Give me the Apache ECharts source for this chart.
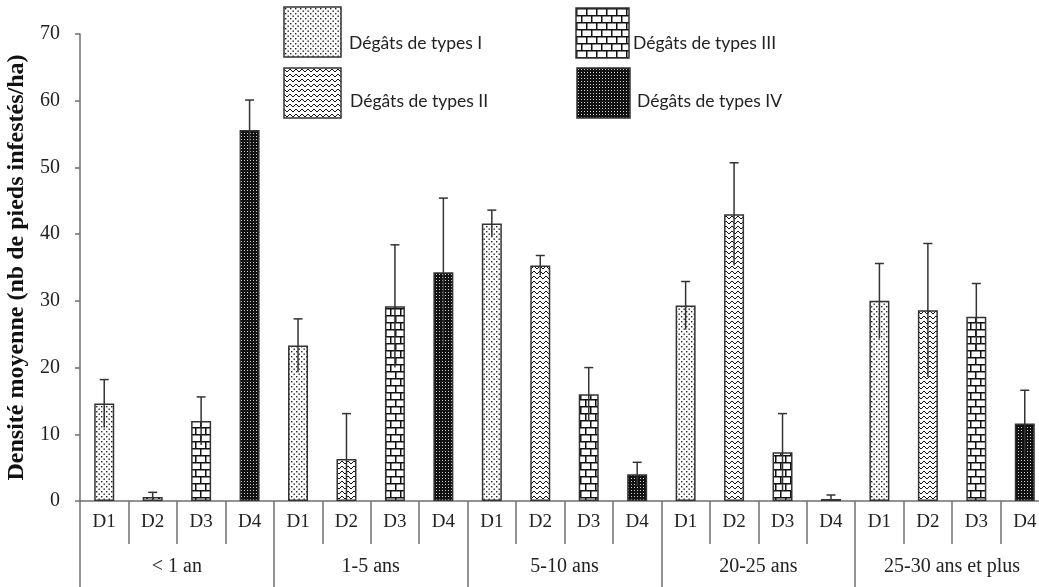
<!DOCTYPE html>
<html>
<head>
<meta charset="utf-8">
<script src="https://cdn.jsdelivr.net/npm/echarts@6/dist/echarts.min.js"></script>
<style>html,body{margin:0;padding:0;background:#fff}#c{width:1039px;height:587px}</style>
</head>
<body>
<div id="c"></div>
<script>
// ---- data ----
const groups = ['< 1 an', '1-5 ans', '5-10 ans', '20-25 ans', '25-30 ans et plus'];
const dLabels = ['D1', 'D2', 'D3', 'D4'];
const typeNames = ['Dégâts de types I', 'Dégâts de types II', 'Dégâts de types III', 'Dégâts de types IV'];
const meanD1 = [14.6, 23.3, 41.6, 29.3, 30.0];
const meanD2 = [0.6, 6.3, 35.3, 43.0, 28.6];
const meanD3 = [12.0, 29.2, 16.0, 7.3, 27.6];
const meanD4 = [55.6, 34.3, 4.0, 0.3, 11.6];
const errD1 = [3.6, 4.0, 2.0, 3.6, 5.6];
const errD2 = [0.7, 6.8, 1.5, 7.7, 10.0];
const errD3 = [3.6, 9.2, 4.0, 5.8, 5.0];
const errD4 = [4.5, 11.1, 1.8, 0.6, 5.0];
const yTicks = [0, 10, 20, 30, 40, 50, 60, 70];

// ---- patterns ----
function pat(w, h, draw) {
  const c = document.createElement('canvas');
  c.width = w; c.height = h;
  const ctx = c.getContext('2d');
  draw(ctx, w, h);
  return { image: c, repeat: 'repeat' };
}
const pDots = pat(5, 5, (ctx) => {
  ctx.fillStyle = '#fff'; ctx.fillRect(0, 0, 5, 5);
  ctx.fillStyle = '#222';
  ctx.fillRect(1, 1, 1.4, 1.4); ctx.fillRect(3.5, 3.5, 1.4, 1.4);
});
const pWave = pat(6, 5, (ctx) => {
  ctx.fillStyle = '#fff'; ctx.fillRect(0, 0, 6, 5);
  ctx.strokeStyle = '#111'; ctx.lineWidth = 1;
  ctx.beginPath(); ctx.moveTo(0, 1); ctx.lineTo(3, 4); ctx.lineTo(6, 1); ctx.stroke();
});
const pBrick = pat(10, 14, (ctx) => {
  ctx.fillStyle = '#fff'; ctx.fillRect(0, 0, 10, 14);
  ctx.fillStyle = '#111';
  ctx.fillRect(0, 0, 10, 1.5); ctx.fillRect(0, 7, 10, 1.5);
  ctx.fillRect(0, 0, 1.5, 7); ctx.fillRect(5, 7, 1.5, 7);
});
const pDark = pat(3, 3, (ctx) => {
  ctx.fillStyle = '#111'; ctx.fillRect(0, 0, 3, 3);
  ctx.fillStyle = '#cfcfcf'; ctx.fillRect(1, 1, 1, 1);
});
const patterns = [pDots, pWave, pBrick, pDark];

// ---- build ----
const means = [meanD1, meanD2, meanD3, meanD4];
const errs = [errD1, errD2, errD3, errD4];
const cats = [];
const barData = [];
const errData = [];
groups.forEach((g, gi) => {
  dLabels.forEach((d, t) => {
    const idx = cats.length;
    cats.push(d);
    const m = means[t][gi], e = errs[t][gi];
    barData.push({ value: m, itemStyle: { color: patterns[t] } });
    errData.push([idx, Math.max(0, m - e), m + e]);
  });
});

const serif = 'Liberation Serif';
const chart = echarts.init(document.getElementById('c'));

const legendBox = [[284, 7, 57], [284, 68, 57], [576, 8, 53], [577, 68, 53]];
const legendText = [[349, 43], [350, 101], [633, 43], [637, 101]];
const graphics = [];
typeNames.forEach((n, i) => {
  graphics.push({
    type: 'rect', x: legendBox[i][0], y: legendBox[i][1],
    shape: { x: 0, y: 0, width: legendBox[i][2], height: 50 },
    style: { fill: patterns[i], stroke: '#333', lineWidth: 1.5 }, z: 10
  });
  graphics.push({
    type: 'text', x: legendText[i][0], y: legendText[i][1],
    style: { text: n, font: '17.5px Lato', fill: '#222', verticalAlign: 'middle', align: 'left' }, z: 10
  });
});

chart.setOption({
  animation: false,
  grid: { left: 80, right: -10, top: 34, bottom: 86, containLabel: false, outerBoundsMode: 'none' },
  xAxis: [
    {
      type: 'category', data: cats, position: 'bottom',
      axisLine: { show: true, lineStyle: { color: '#707070', width: 1.5 } },
      axisTick: { show: true, interval: 0, length: 43, lineStyle: { color: '#707070', width: 1.5 } },
      axisLabel: { interval: 0, margin: 12, fontFamily: serif, fontSize: 19, color: '#222' }
    },
    {
      type: 'category', data: groups, position: 'bottom',
      axisLine: { show: false },
      axisTick: { show: true, interval: 0, length: 86, lineStyle: { color: '#707070', width: 1.5 } },
      axisLabel: { interval: 0, margin: 56, fontFamily: serif, fontSize: 20, color: '#222' }
    }
  ],
  yAxis: {
    type: 'value', min: yTicks[0], max: yTicks[yTicks.length - 1], interval: 10,
    name: 'Densité moyenne (nb de pieds infestés/ha)',
    nameLocation: 'middle', nameGap: 51,
    nameTextStyle: { fontFamily: serif, fontSize: 24, fontWeight: 'bold', color: '#111' },
    axisLine: { show: true, lineStyle: { color: '#707070', width: 1.5 } },
    axisTick: { show: true, length: 5, lineStyle: { color: '#707070', width: 1.5 } },
    axisLabel: { margin: 20, fontFamily: serif, fontSize: 20, color: '#222' },
    splitLine: { show: false }
  },
  graphic: graphics,
  series: [
    {
      type: 'bar', xAxisIndex: 0, data: barData, barWidth: 20,
      itemStyle: { borderColor: '#333', borderWidth: 1.5 }
    },
    {
      type: 'custom', xAxisIndex: 0, data: errData, z: 5,
      encode: { x: 0, y: [1, 2] },
      renderItem: function (params, api) {
        const x = api.value(0);
        const lo = api.coord([x, api.value(1)]);
        const hi = api.coord([x, api.value(2)]);
        const s = { stroke: '#333', lineWidth: 1.5 };
        return {
          type: 'group', children: [
            { type: 'line', shape: { x1: hi[0], y1: hi[1], x2: lo[0], y2: lo[1] }, style: s },
            { type: 'line', shape: { x1: hi[0] - 4.5, y1: hi[1], x2: hi[0] + 4.5, y2: hi[1] }, style: s }
          ]
        };
      }
    }
  ]
});
</script>
</body>
</html>
